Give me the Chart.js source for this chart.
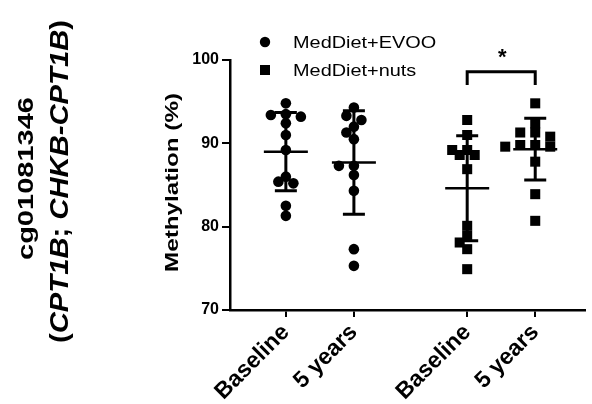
<!DOCTYPE html>
<html>
<head>
<meta charset="utf-8">
<script src="https://cdn.jsdelivr.net/npm/chart.js@4.4.1/dist/chart.umd.min.js"></script>
<style>
  html, body { margin: 0; padding: 0; background: #fff; }
  canvas { display: block; }
</style>
</head>
<body>
<canvas id="chart" width="592" height="404"></canvas>
<script>
// cg01081346 methylation (%) per participant, baseline vs 5 years, by intervention arm
const categories = ['Baseline', '5 years', 'Baseline', '5 years'];
const groupLabels = ['MedDiet+EVOO', 'MedDiet+nuts'];
const evooBaseline  = [93.5, 94.8, 93.4, 92.4, 93.2, 91.0, 89.2, 85.4, 85.2, 86.0, 82.5, 81.3];
const evooFiveYears = [93.3, 94.3, 92.0, 92.8, 91.3, 90.5, 87.3, 87.3, 86.2, 84.3, 77.3, 75.3];
const nutsBaseline  = [92.8, 91.0, 89.2, 89.2, 88.6, 88.6, 86.9, 80.1, 78.9, 78.1, 77.3, 74.9];
const nutsFiveYears = [94.8, 92.4, 91.3, 91.3, 90.8, 89.6, 89.6, 89.8, 89.8, 87.8, 83.9, 80.7];
const columnMeans = [89.0, 87.7, 84.6, 89.3];
const columnSD    = [4.7, 6.2, 6.3, 3.7];
const yTicks = [70, 80, 90, 100];
const significance = [{ from: 2, to: 3, label: '*' }];

// layout
const FONT = '"Liberation Sans", Arial, Helvetica, sans-serif';
const columnPos = [1, 2, 3.665, 4.665];
const columns = [
  { values: evooBaseline,  dataset: 0 },
  { values: evooFiveYears, dataset: 0 },
  { values: nutsBaseline,  dataset: 1 },
  { values: nutsFiveYears, dataset: 1 }
];

function columnPoints(idx) {
  return columns[idx].values.map(v => ({ x: columnPos[idx], y: v }));
}

// draws a run of text parts (upright / italic) stretched along its baseline
function drawStretched(ctx, parts, opts) {
  const { x, y, angle = 0, size, bold = true, length = null, sx = 1, align = 'center' } = opts;
  const fontOf = p => (p.italic ? 'italic ' : '') + (bold ? 'bold ' : '') + size + 'px ' + FONT;
  ctx.save();
  ctx.translate(x, y);
  ctx.rotate(angle);
  let total = 0;
  const widths = parts.map(p => { ctx.font = fontOf(p); const w = ctx.measureText(p.text).width; total += w; return w; });
  const scale = length ? length / total : sx;
  ctx.scale(scale, 1);
  ctx.fillStyle = '#000';
  ctx.textAlign = 'left';
  ctx.textBaseline = 'alphabetic';
  let cx = align === 'center' ? -total / 2 : 0;
  parts.forEach((p, i) => {
    ctx.font = fontOf(p);
    ctx.fillText(p.text, cx, size * 0.36);
    cx += widths[i];
  });
  ctx.restore();
}

// mean ± SD whiskers
const errorBars = {
  id: 'errorBars',
  afterDatasetsDraw(chart) {
    const { ctx, scales: { x, y } } = chart;
    ctx.save();
    ctx.strokeStyle = '#000';
    ctx.lineCap = 'butt';
    columnMeans.forEach((m, i) => {
      const cx = x.getPixelForValue(columnPos[i]);
      const yTop = y.getPixelForValue(m + columnSD[i]);
      const yBot = y.getPixelForValue(m - columnSD[i]);
      const yMean = y.getPixelForValue(m);
      ctx.lineWidth = 3;
      ctx.beginPath();
      ctx.moveTo(cx, yTop); ctx.lineTo(cx, yBot);
      ctx.moveTo(cx - 11, yTop); ctx.lineTo(cx + 11, yTop);
      ctx.moveTo(cx - 11, yBot); ctx.lineTo(cx + 11, yBot);
      ctx.stroke();
      ctx.lineWidth = 2.5;
      ctx.beginPath();
      ctx.moveTo(cx - 22, yMean); ctx.lineTo(cx + 22, yMean);
      ctx.stroke();
    });
    ctx.restore();
  }
};

// titles, legend and significance bracket
const decorations = {
  id: 'decorations',
  afterDraw(chart) {
    const { ctx, scales: { x, y } } = chart;

    drawStretched(ctx, [{ text: 'cg01081346' }], { x: 25, y: 178.5, angle: -Math.PI / 2, size: 21.5, length: 163 });
    drawStretched(ctx, [
      { text: '(' }, { text: 'CPT1B', italic: true }, { text: '; ' },
      { text: 'CHKB-CPT1B', italic: true }, { text: ')' }
    ], { x: 58.5, y: 181.5, angle: -Math.PI / 2, size: 26, length: 323 });
    drawStretched(ctx, [{ text: 'Methylation (%)' }], { x: 171, y: 182.5, angle: -Math.PI / 2, size: 19, length: 179 });

    // legend
    chart.data.datasets.forEach((ds, i) => {
      const ly = 42 + i * 28;
      ctx.save();
      ctx.fillStyle = '#000';
      if (ds.pointStyle === 'rect') {
        ctx.fillRect(265 - 5, ly - 5, 10, 10);
      } else {
        ctx.beginPath(); ctx.arc(265, ly, 5.2, 0, Math.PI * 2); ctx.fill();
      }
      ctx.restore();
      drawStretched(ctx, [{ text: ds.label }], { x: 293, y: ly, size: 17, bold: false, sx: 1.17, align: 'left' });
    });

    // significance bracket
    significance.forEach(s => {
      const x1 = x.getPixelForValue(columnPos[s.from]);
      const x2 = x.getPixelForValue(columnPos[s.to]);
      const yTop = y.getPixelForValue(98.6);
      const yLeg = y.getPixelForValue(97.0);
      ctx.save();
      ctx.strokeStyle = '#000';
      ctx.lineWidth = 3;
      ctx.lineJoin = 'miter';
      ctx.beginPath();
      ctx.moveTo(x1, yLeg); ctx.lineTo(x1, yTop); ctx.lineTo(x2, yTop); ctx.lineTo(x2, yLeg);
      ctx.stroke();
      ctx.fillStyle = '#000';
      ctx.font = 'bold 22px ' + FONT;
      ctx.textAlign = 'center';
      ctx.textBaseline = 'alphabetic';
      ctx.fillText(s.label, (x1 + x2) / 2 + 1, 63.5);
      ctx.restore();
    });
  }
};

const chart = new Chart(document.getElementById('chart'), {
  type: 'scatter',
  data: {
    datasets: [
      {
        label: groupLabels[0],
        data: columnPoints(0).concat(columnPoints(1)),
        pointStyle: 'circle',
        pointRadius: 5.3,
        backgroundColor: '#000',
        borderWidth: 0
      },
      {
        label: groupLabels[1],
        data: columnPoints(2).concat(columnPoints(3)),
        pointStyle: 'rect',
        pointRadius: 7.1,
        backgroundColor: '#000',
        borderWidth: 0
      }
    ]
  },
  options: {
    responsive: false,
    animation: false,
    layout: { padding: { top: 60, right: 0, bottom: 0, left: 0 } },
    plugins: {
      legend: { display: false },
      tooltip: { enabled: false }
    },
    scales: {
      x: {
        type: 'linear',
        min: 0.179,
        max: 5.395,
        afterBuildTicks: s => { s.ticks = columnPos.map(v => ({ value: v })); },
        afterFit: s => { s.height = 94; },
        ticks: {
          autoSkip: false,
          minRotation: 45,
          maxRotation: 45,
          padding: 2,
          color: '#000',
          font: { family: FONT, size: 23, weight: 'bold' },
          callback: (v, i) => categories[i]
        },
        grid: { display: true, drawOnChartArea: false, drawTicks: true, tickLength: 7, color: '#000', lineWidth: 2 },
        border: { display: true, color: '#000', width: 2.5 }
      },
      y: {
        min: 70,
        max: 100,
        afterBuildTicks: s => { s.ticks = yTicks.map(v => ({ value: v })); },
        afterFit: s => { s.width = 230; },
        ticks: {
          padding: 3,
          color: '#000',
          font: { family: FONT, size: 16, weight: 'bold' }
        },
        grid: { display: true, drawOnChartArea: false, drawTicks: true, tickLength: 8, color: '#000', lineWidth: 2 },
        border: { display: true, color: '#000', width: 2.5 }
      }
    }
  },
  plugins: [errorBars, decorations]
});

// spread overlapping dots sideways within each column (beeswarm)
function swarmColumn(values, pos, xs, ys, diam, step) {
  const cx = xs.getPixelForValue(pos);
  const order = values.map((v, i) => i).sort((a, b) => values[b] - values[a]);
  const placed = [];
  const xOut = [];
  order.forEach(i => {
    const py = ys.getPixelForValue(values[i]);
    let off = 0;
    for (let k = 0; k < 40; k++) {
      const o = k === 0 ? 0 : (k % 2 ? -1 : 1) * Math.ceil(k / 2) * step;
      if (placed.every(p => Math.hypot(p.x - (cx + o), p.y - py) >= diam)) { off = o; break; }
    }
    placed.push({ x: cx + off, y: py });
    xOut[i] = xs.getValueForPixel(cx + off);
  });
  return xOut;
}

const xs = chart.scales.x, ys = chart.scales.y;
chart.data.datasets.forEach(ds => { ds.data = []; });
columns.forEach((col, idx) => {
  const xsw = swarmColumn(col.values, columnPos[idx], xs, ys, 9, 7.5);
  col.values.forEach((v, i) => chart.data.datasets[col.dataset].data.push({ x: xsw[i], y: v }));
});
chart.update('none');
</script>
</body>
</html>
